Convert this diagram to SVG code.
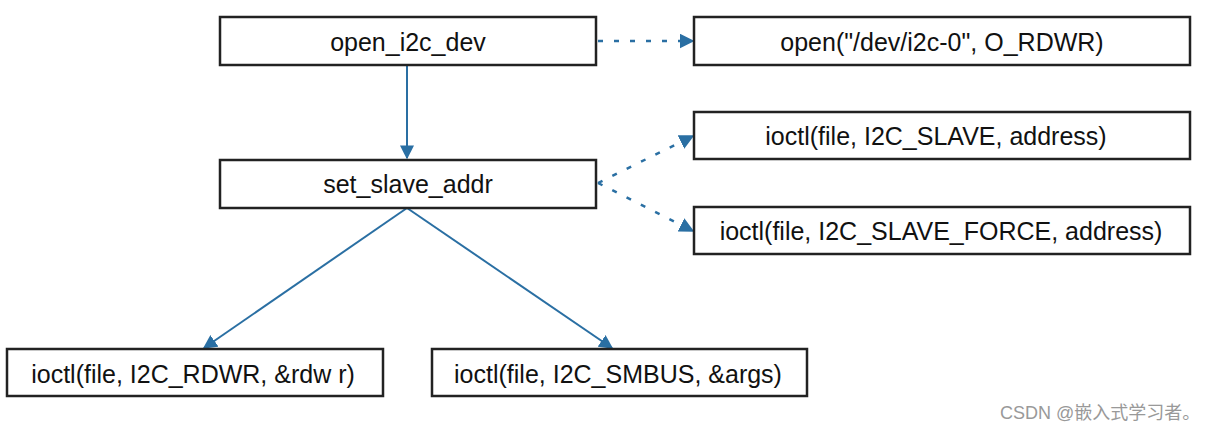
<svg xmlns="http://www.w3.org/2000/svg" width="1209" height="433" viewBox="0 0 1209 433">
<defs>
<style>
.box{fill:#fff;stroke:#222;stroke-width:2.5}
.t{font-family:"Liberation Sans",Arial,sans-serif;font-size:25px;fill:#111;text-anchor:middle;dominant-baseline:central}
.solid{stroke:#2a6fa3;stroke-width:2;fill:none}
.dot{stroke:#2a6fa3;stroke-width:2.5;fill:none;stroke-dasharray:5 11}
.wm{font-family:"Liberation Sans","Noto Sans CJK SC",sans-serif;font-size:18px;fill:#999}
</style>
<marker id="ah" viewBox="0 0 10 10" refX="9" refY="5" markerWidth="15" markerHeight="15" markerUnits="userSpaceOnUse" orient="auto"><path d="M0,0 L10,5 L0,10 z" fill="#2a6fa3"/></marker>
<marker id="ah2" viewBox="0 0 10 10" refX="9" refY="5" markerWidth="14" markerHeight="14" markerUnits="userSpaceOnUse" orient="auto"><path d="M0,0 L10,5 L0,10 z" fill="#2a6fa3"/></marker>
</defs>
<rect width="1209" height="433" fill="#fff"/>
<g id="connectors">
<line class="solid" x1="407" y1="65" x2="407" y2="158" marker-end="url(#ah2)"/>
<line class="solid" x1="407" y1="208" x2="204" y2="348" marker-end="url(#ah2)"/>
<line class="solid" x1="407" y1="208" x2="612" y2="348" marker-end="url(#ah2)"/>
<line class="dot" x1="598" y1="41" x2="693" y2="41" marker-end="url(#ah)"/>
<line class="dot" x1="598" y1="183" x2="693" y2="136" marker-end="url(#ah)"/>
<line class="dot" x1="598" y1="183" x2="693" y2="231" marker-end="url(#ah)"/>
</g>
<g id="n1"><rect class="box" x="220" y="17" width="376" height="48"/><text class="t" x="408" y="42">open_i2c_dev</text></g>
<g id="n2"><rect class="box" x="694" y="17" width="496" height="48"/><text class="t" x="942" y="42">open("/dev/i2c-0", O_RDWR)</text></g>
<g id="n3"><rect class="box" x="694" y="112" width="496" height="47"/><text class="t" x="936" y="136">ioctl(file, I2C_SLAVE, address)</text></g>
<g id="n4"><rect class="box" x="220" y="160" width="376" height="48"/><text class="t" x="408" y="184">set_slave_addr</text></g>
<g id="n5"><rect class="box" x="694" y="207" width="496" height="47"/><text class="t" x="941" y="231">ioctl(file, I2C_SLAVE_FORCE, address)</text></g>
<g id="n6"><rect class="box" x="7" y="349" width="376" height="47"/><text class="t" x="193" y="374">ioctl(file, I2C_RDWR, &amp;rdw r)</text></g>
<g id="n7"><rect class="box" x="432" y="349" width="375" height="47"/><text class="t" x="618" y="374">ioctl(file, I2C_SMBUS, &amp;args)</text></g>
<text class="wm" x="1000" y="419">CSDN @嵌入式学习者。</text>
</svg>
